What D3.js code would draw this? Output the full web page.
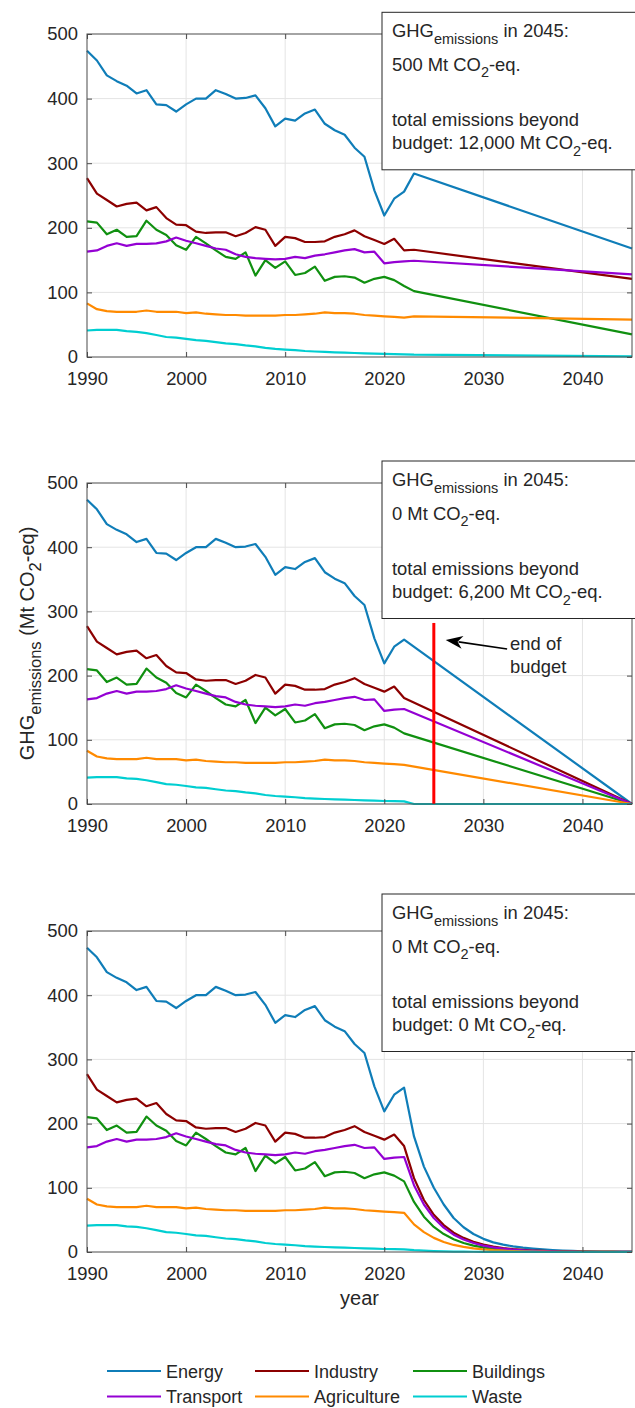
<!DOCTYPE html>
<html>
<head>
<meta charset="utf-8">
<script src="https://cdn.jsdelivr.net/npm/d3@7"></script>
<style>
  body { margin: 0; background: #fff; }
  text { font-family: "Liberation Sans", Arial, Helvetica, sans-serif; fill: #262626; white-space: pre; }
</style>
</head>
<body>
<svg id="chart" width="635" height="1408"></svg>
<script>
// ---- data -------------------------------------------------------------
const sectors = ["Energy", "Industry", "Buildings", "Transport", "Agriculture", "Waste"];
const colors = ["#0f7db8", "#8c0000", "#109010", "#9400d3", "#ff8a00", "#00ced1"];

// historical emissions 1990-2022 (Mt CO2-eq)
const years = d3.range(1990, 2023);
const energy = [474,459,436,427,420,408,413,391,390,380,391,400,400,413,407,400,401,405,385,357,369,366,377,383,361,351,344,324,310,258,219,245,256];
const industry = [277,253,243,233,237,239,227,232,215,205,204,194,192,193,193,187,192,201,197,172,186,184,178,178,179,186,190,196,187,181,175,183,165];
const buildings = [210,208,190,197,186,187,211,197,189,173,166,186,176,165,155,152,162,126,150,138,148,127,130,140,118,124,125,123,115,121,124,119,110];
const transport = [163,165,172,176,172,175,175,176,179,185,180,176,172,168,166,159,155,153,152,151,152,155,153,157,159,162,165,167,162,163,145,147,148];
const agriculture = [83,74,71,70,70,70,72,70,70,70,68,69,67,66,65,65,64,64,64,64,65,65,66,67,69,68,68,67,65,64,63,62,61];
const waste = [41,42,42,42,40,39,37,34,31,30,28,26,25,23,21,20,18,16.5,14,12.5,11.4,10.5,9.3,8.5,7.8,7.2,6.7,6.2,5.7,5.2,4.7,4.4,4.1];
const history = [energy, industry, buildings, transport, agriculture, waste];

// scenario A: 500 Mt in 2045
const yearsA = [2023, 2045];
const scenarioA = [[284,168],[166,121],[102,35],[149,128],[63,58],[3.6,1]];
// scenario B: zero in 2045 (budget ends 2025)
const yearsB = [2023, 2045];
const scenarioB = [[null,0],[null,0],[null,0],[null,0],[null,0],[0,0]];
// scenario C: immediate decline
const yearsC = d3.range(2023, 2046);
const scenarioC = [
  [180,133,100,74,53,38.5,28,20.5,15,11.4,8.8,6.7,5.2,4,3,2.2,1.6,1.2,0.9,0.7,0.5,0.4,0.3],
  [115,81,58,42,30,22,16,11.5,8.3,6,4.4,3.2,2.3,1.7,1.2,0.9,0.65,0.47,0.34,0.25,0.18,0.13,0.1],
  [78,55,39,28,20,14,10,7.2,5.1,3.7,2.6,1.9,1.3,0.95,0.68,0.48,0.34,0.25,0.18,0.13,0.09,0.06,0.04],
  [104,74,53,38,27,19.5,14,10,7.2,5.2,3.7,2.7,1.9,1.4,1,0.72,0.52,0.37,0.27,0.19,0.14,0.1,0.07],
  [43,31,22,15.6,11,7.9,5.6,4,2.8,2,1.4,1,0.72,0.51,0.36,0.26,0.18,0.13,0.09,0.07,0.05,0.03,0.02],
  [2.8,2,1.4,1,0.7,0.5,0.36,0.25,0.18,0.13,0.09,0.06,0.05,0.03,0.02,0.02,0.01,0.01,0.01,0,0,0,0]
];

const total2045 = ["500", "0", "0"];
const beyondBudget = ["12,000", "6,200", "0"];
const xTicks = [1990, 2000, 2010, 2020, 2030, 2040];
const yTicks = [0, 100, 200, 300, 400, 500];
const budgetEnd = { year: 2025, top: 282 };

// ---- layout -----------------------------------------------------------
const left = 87, right = 632;
const fontSize = 18.4, subSize = 14.5;
const panels = [
  { top: 34, bottom: 357, years: yearsA, scen: scenarioA, boxTop: 12.3 },
  { top: 483, bottom: 804, years: yearsB, scen: scenarioB, boxTop: 461 },
  { top: 931, bottom: 1252, years: yearsC, scen: scenarioC, boxTop: 894 }
];

const svg = d3.select("#chart");
const x = d3.scaleLinear().domain([1990, 2045]).range([left, right]);

// writes text with TeX-like subscripts
function richText(sel, parts, size, sub, shift) {
  let down = false;
  parts.forEach(([t, isSub]) => {
    const ts = sel.append("tspan").attr("font-size", isSub ? sub : size).text(t);
    if (isSub && !down) { ts.attr("dy", shift); down = true; }
    else if (!isSub && down) { ts.attr("dy", -shift); down = false; }
  });
}

panels.forEach((p, pi) => {
  const y = d3.scaleLinear().domain([0, 500]).range([p.bottom, p.top]);
  const g = svg.append("g");

  // grid
  g.selectAll(".vg").data(xTicks.slice(1)).join("line")
    .attr("x1", d => x(d)).attr("x2", d => x(d))
    .attr("y1", p.top).attr("y2", p.bottom)
    .attr("stroke", "#e4e4e4").attr("stroke-width", 1);
  g.selectAll(".hg").data(yTicks.slice(1, -1)).join("line")
    .attr("x1", left).attr("x2", right)
    .attr("y1", d => y(d)).attr("y2", d => y(d))
    .attr("stroke", "#e4e4e4").attr("stroke-width", 1);

  // series
  const line = d3.line().x(d => x(d[0])).y(d => y(d[1]));
  history.forEach((h, k) => {
    const pts = years.map((yr, j) => [yr, h[j]])
      .concat(p.years.map((yr, j) => [yr, p.scen[k][j]]).filter(d => d[1] !== null));
    g.append("path").datum(pts)
      .attr("d", line)
      .attr("fill", "none")
      .attr("stroke", colors[k])
      .attr("stroke-width", 2.2)
      .attr("stroke-linejoin", "round");
  });

  // budget marker in the middle panel
  if (pi === 1) {
    g.append("line")
      .attr("x1", x(budgetEnd.year)).attr("x2", x(budgetEnd.year))
      .attr("y1", y(0)).attr("y2", y(budgetEnd.top))
      .attr("stroke", "#ff0000").attr("stroke-width", 3);
    const tip = [x(2026.2), y(255.5)], tail = [x(2032.4), y(241.5)];
    const ang = Math.atan2(tail[1] - tip[1], tail[0] - tip[0]);
    const hl = 17, hw = 6.5;
    const bx = tip[0] + hl * Math.cos(ang), by = tip[1] + hl * Math.sin(ang);
    const nx = -Math.sin(ang), ny = Math.cos(ang);
    g.append("line")
      .attr("x1", tail[0]).attr("y1", tail[1])
      .attr("x2", bx - 4 * Math.cos(ang)).attr("y2", by - 4 * Math.sin(ang))
      .attr("stroke", "#000").attr("stroke-width", 1.6);
    g.append("path")
      .attr("d", `M${tip[0]},${tip[1]} L${bx + hw * nx},${by + hw * ny} L${bx - 5 * Math.cos(ang)},${by - 5 * Math.sin(ang)} L${bx - hw * nx},${by - hw * ny} Z`)
      .attr("fill", "#000");
    g.append("text").attr("x", x(2032.7)).attr("y", y(240)).attr("font-size", fontSize).text("end of");
    g.append("text").attr("x", x(2032.7)).attr("y", y(204)).attr("font-size", fontSize).text("budget");
  }

  // axes
  const ax = g.append("g").attr("transform", `translate(0,${p.bottom})`)
    .call(d3.axisBottom(x).tickValues(xTicks).tickFormat(d3.format("d")).tickSizeInner(-5).tickSizeOuter(0).tickPadding(15));
  const ay = g.append("g").attr("transform", `translate(${left},0)`)
    .call(d3.axisLeft(y).tickValues(yTicks).tickSizeInner(-5).tickSizeOuter(0).tickPadding(9));
  const at = g.append("g").attr("transform", `translate(0,${p.top})`)
    .call(d3.axisTop(x).tickValues(xTicks).tickFormat("").tickSizeInner(-5).tickSizeOuter(0));
  const ar = g.append("g").attr("transform", `translate(${right},0)`)
    .call(d3.axisRight(y).tickValues(yTicks).tickFormat("").tickSizeInner(-5).tickSizeOuter(0));
  [ax, ay, at, ar].forEach(a => {
    a.select(".domain").remove();
    a.selectAll("line").attr("stroke", "#4a4a4a");
    a.selectAll("text").attr("font-size", fontSize).attr("fill", "#262626")
      .style("font-family", '"Liberation Sans", Arial, sans-serif');
  });
  g.append("rect").attr("x", left).attr("y", p.top)
    .attr("width", right - left).attr("height", p.bottom - p.top)
    .attr("fill", "none").attr("stroke", "#4a4a4a").attr("stroke-width", 1);

  // annotation box
  const bx0 = 382, by0 = p.boxTop;
  svg.append("rect").attr("x", bx0).attr("y", by0).attr("width", 270).attr("height", 157.5)
    .attr("fill", "#fff").attr("stroke", "#262626").attr("stroke-width", 1);
  const lines = [
    { dy: 25, parts: [["GHG", 0], ["emissions", 1], [" in 2045:", 0]] },
    { dy: 58.5, parts: [[total2045[pi] + " Mt CO", 0], ["2", 1], ["-eq.", 0]] },
    { dy: 114, parts: [["total emissions beyond", 0]] },
    { dy: 137, parts: [["budget: " + beyondBudget[pi] + " Mt CO", 0], ["2", 1], ["-eq.", 0]] }
  ];
  lines.forEach(l => {
    const t = svg.append("text").attr("x", 392).attr("y", by0 + l.dy);
    richText(t, l.parts, fontSize, subSize, 6.5);
  });

  // axis titles
  if (pi === 1) {
    const t = svg.append("text")
      .attr("transform", `translate(34,${(p.top + p.bottom) / 2}) rotate(-90)`)
      .attr("text-anchor", "middle");
    richText(t, [["GHG", 0], ["emissions", 1], [" (Mt CO", 0], ["2", 1], ["-eq)", 0]], 20, 16.5, 7);
  }
  if (pi === 2) {
    svg.append("text").attr("x", (left + right) / 2).attr("y", 1305)
      .attr("text-anchor", "middle").attr("font-size", 20).text("year");
  }
});

// ---- legend -----------------------------------------------------------
const legCols = [107, 255, 413];
const legRows = [1371, 1396.5];
sectors.forEach((s, k) => {
  const cx = legCols[k % 3], cy = legRows[Math.floor(k / 3)];
  svg.append("line").attr("x1", cx).attr("x2", cx + 54).attr("y1", cy).attr("y2", cy)
    .attr("stroke", colors[k]).attr("stroke-width", 2.2);
  svg.append("text").attr("x", cx + 59).attr("y", cy + 6.5)
    .attr("font-size", 18).attr("fill", "#000").text(s);
});
</script>
</body>
</html>
